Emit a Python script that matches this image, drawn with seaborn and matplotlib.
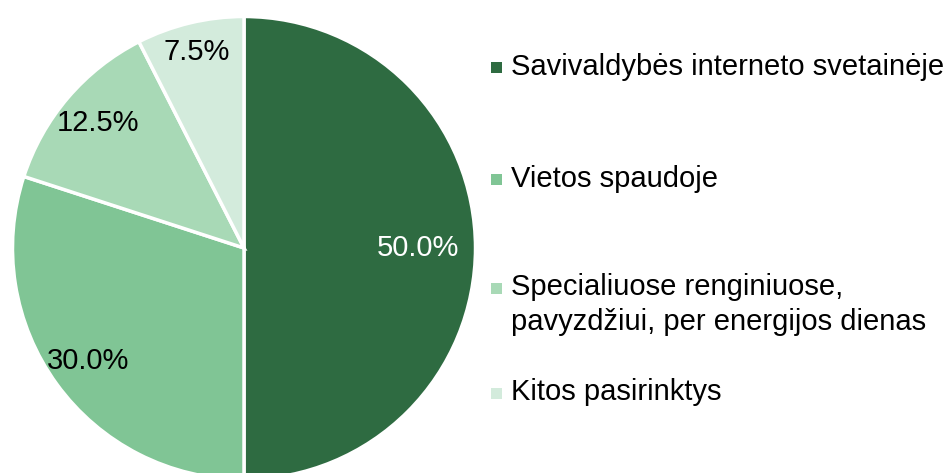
import numpy as np
import matplotlib
matplotlib.use("Agg")
import matplotlib.pyplot as plt
import matplotlib.patches as mpatches
import seaborn as sns

# data
categories = [
    "Savivaldybės interneto svetainėje",
    "Vietos spaudoje",
    "Specialiuose renginiuose,\npavyzdžiui, per energijos dienas",
    "Kitos pasirinktys",
]
shares = [50.0, 30.0, 12.5, 7.5]
colors = ["#2E6B41", "#80C595", "#A8D9B6", "#D3EBDC"]
label_colors = ["white", "black", "black", "black"]

sns.set_theme(style="white")
plt.rcParams["font.family"] = ["Liberation Sans", "DejaVu Sans"]

W, H = 948, 473
fig = plt.figure(figsize=(W / 100, H / 100), dpi=100)

# pie axes placed by pixel geometry (centre 244,248 ; radius 231.5)
cx, cy, r = 244, 248, 231.5
ax = fig.add_axes([(cx - r) / W, (H - cy - r) / H, 2 * r / W, 2 * r / H])
wedges, texts, autotexts = ax.pie(
    shares, colors=colors, startangle=90, counterclock=False,
    autopct="%.1f%%", pctdistance=0.8,
    wedgeprops=dict(edgecolor="white", linewidth=2.5),
    textprops=dict(fontsize=21),
)
ax.set_xlim(-1, 1)
ax.set_ylim(-1, 1)
ax.set_aspect("equal")
ax.axis("off")

# label distances differ per slice (like Excel "best fit")
dists = [0.75, 0.83, 0.83, 0.87]
for w, t, d, c in zip(wedges, autotexts, dists, label_colors):
    ang = np.deg2rad((w.theta1 + w.theta2) / 2)
    t.set_position((d * np.cos(ang), d * np.sin(ang)))
    t.set_color(c)

# legend drawn by hand so the square sits on the first text line
rows_y = [68, 180, 288, 393]
for lab, col, y in zip(categories, colors, rows_y):
    fig.patches.append(mpatches.Rectangle(
        (491 / W, (H - y - 5.5) / H), 11 / W, 11 / H,
        transform=fig.transFigure, facecolor=col, edgecolor="none"))
    fig.text(511 / W, (H - y + 15) / H, lab, fontsize=21, color="black",
             va="top", ha="left", linespacing=1.3)

fig.savefig("out.png", dpi=100)
